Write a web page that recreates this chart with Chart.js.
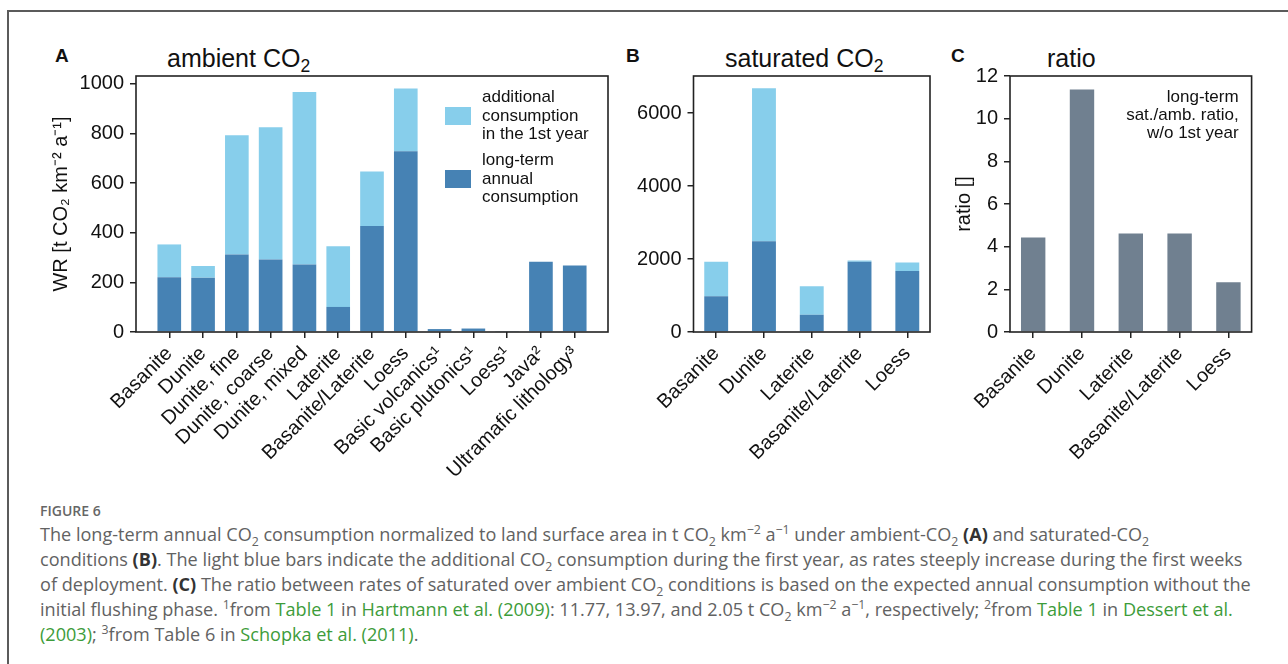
<!DOCTYPE html>
<html>
<head>
<meta charset="utf-8">
<script src="https://cdn.jsdelivr.net/npm/chart.js@4.4.1/dist/chart.umd.min.js"></script>
<style>
  body { margin:0; background:#fff; width:1288px; height:664px; overflow:hidden; position:relative; font-family:"Liberation Sans", Arial, sans-serif; }
  .frame { position:absolute; left:7px; top:10px; width:1400px; height:800px; border-left:2px solid #5b5b5b; border-top:2px solid #5b5b5b; }
  canvas { position:absolute; top:0; }
  .letter { position:absolute; top:45px; font-weight:bold; font-size:19px; color:#111; }
  .ttl { position:absolute; top:46px; font-size:25px; line-height:25px; color:#111; white-space:nowrap; }
  .ttl sub { font-size:0.7em; vertical-align:-0.28em; line-height:0; }
  .caption { position:absolute; left:40px; top:500px; font-family:"Open Sans", sans-serif; color:#626262; white-space:nowrap; }
  .caption .fig { font-size:14px; font-weight:600; color:#666; line-height:22px; }
  .caption .ln { font-size:18.1px; line-height:25px; }
  .caption sub, .caption sup { font-size:0.68em; line-height:0; }
  .caption b { color:#333; font-weight:700; }
  .caption a { color:#3d9c3a; text-decoration:none; }
</style>
</head>
<body>
<div class="frame"></div>

<div class="letter" style="left:55px">A</div>
<div class="ttl" style="left:167px">ambient CO<sub>2</sub></div>
<div class="letter" style="left:626px">B</div>
<div class="ttl" style="left:725px">saturated CO<sub>2</sub></div>
<div class="letter" style="left:951px">C</div>
<div class="ttl" style="left:1047px">ratio</div>

<canvas id="chartA" width="620" height="500" style="left:0px"></canvas>
<canvas id="chartB" width="320" height="500" style="left:620px"></canvas>
<canvas id="chartC" width="340" height="500" style="left:940px"></canvas>

<div class="caption">
  <div class="fig">FIGURE 6</div>
  <div class="ln">The long-term annual CO<sub>2</sub> consumption normalized to land surface area in t CO<sub>2</sub> km<sup>−2</sup> a<sup>−1</sup> under ambient-CO<sub>2</sub> <b>(A)</b> and saturated-CO<sub>2</sub></div>
  <div class="ln">conditions <b>(B)</b>. The light blue bars indicate the additional CO<sub>2</sub> consumption during the first year, as rates steeply increase during the first weeks</div>
  <div class="ln">of deployment. <b>(C)</b> The ratio between rates of saturated over ambient CO<sub>2</sub> conditions is based on the expected annual consumption without the</div>
  <div class="ln">initial flushing phase. <sup>1</sup>from <a>Table 1</a> in <a>Hartmann et al. (2009)</a>: 11.77, 13.97, and 2.05 t CO<sub>2</sub> km<sup>−2</sup> a<sup>−1</sup>, respectively; <sup>2</sup>from <a>Table 1</a> in <a>Dessert et al.</a></div>
  <div class="ln"><a>(2003)</a>; <sup>3</sup>from Table 6 in <a>Schopka et al. (2011)</a>.</div>
</div>

<script>
// panel A - ambient CO2
const ambientCats = ['Basanite', 'Dunite', 'Dunite, fine', 'Dunite, coarse', 'Dunite, mixed', 'Laterite',
  'Basanite/Laterite', 'Loess', 'Basic volcanics¹', 'Basic plutonics¹', 'Loess¹', 'Java²', 'Ultramafic lithology³'];
const ambientLongTerm = [221, 219, 312, 292, 272, 101, 427, 729, 11.77, 13.97, 2.05, 283, 268];
const ambientFirstYear = [132, 47, 481, 533, 696, 245, 220, 253, null, null, null, null, null];
const ambientTicks = [0, 200, 400, 600, 800, 1000];

// panel B - saturated CO2
const satCats = ['Basanite', 'Dunite', 'Laterite', 'Basanite/Laterite', 'Loess'];
const satLongTerm = [980, 2492, 476, 1924, 1676];
const satFirstYear = [944, 4195, 779, 36, 229];
const satTicks = [0, 2000, 4000, 6000];

// panel C - ratio sat./amb.
const ratioCats = ['Basanite', 'Dunite', 'Laterite', 'Basanite/Laterite', 'Loess'];
const ratioValues = [4.43, 11.37, 4.62, 4.62, 2.33];
const ratioTicks = [0, 2, 4, 6, 8, 10, 12];

const LIGHT = '#87CEEB', DARK = '#4682B4', GRAY = '#708090';
const FONT = '"Liberation Sans", Arial, sans-serif';
const INK = '#111';

const pts = arr => arr.map((v, i) => ({x: i, y: v}));

// matplotlib style box around the axes
const boxPlugin = {
  id: 'axesBox',
  afterDatasetsDraw(chart) {
    const {ctx, chartArea: a} = chart;
    ctx.save();
    ctx.strokeStyle = '#222';
    ctx.lineWidth = 1.6;
    ctx.strokeRect(a.left, a.top, a.right - a.left, a.bottom - a.top);
    ctx.restore();
  }
};

// legend with patches on the left and wrapped labels, drawn inside the axes
const boxLegendPlugin = {
  id: 'boxLegend',
  afterDraw(chart, args, opts) {
    if (!opts.show) return;
    const {ctx, chartArea: a} = chart;
    const items = chart.data.datasets.slice().reverse();
    ctx.save();
    ctx.font = '17px ' + FONT;
    ctx.textBaseline = 'middle';
    items.forEach((ds, k) => {
      const cy = a.top + opts.firstY + k * opts.gap;
      const x0 = a.right - opts.fromRight;
      ctx.fillStyle = ds.backgroundColor;
      ctx.fillRect(x0, cy - 9, 26, 18);
      ctx.fillStyle = INK;
      ds.label.forEach((ln, i) => {
        ctx.fillText(ln, x0 + 37, cy + (i - (ds.label.length - 1) / 2) * 18.6);
      });
    });
    ctx.restore();
  }
};

const noteLinesC = ['long-term', 'sat./amb. ratio,', 'w/o 1st year'];
const notePlugin = {
  id: 'cornerNote',
  afterDraw(chart, args, opts) {
    if (!opts.lines) return;
    const {ctx, chartArea: a} = chart;
    ctx.save();
    ctx.font = '17px ' + FONT;
    ctx.textAlign = 'right';
    ctx.textBaseline = 'middle';
    ctx.fillStyle = INK;
    opts.lines.forEach((ln, i) => ctx.fillText(ln, a.right - 13, a.top + 21 + i * 18.2));
    ctx.restore();
  }
};

function makeScales(cats, yMax, yTicks, yWidth, xPad, yTitle, yTitlePad, stacked) {
  return {
    x: {
      type: 'linear',
      stacked: stacked,
      min: -xPad,
      max: cats.length - 1 + xPad,
      offset: false,
      afterFit: s => { s.height = 168; },
      afterBuildTicks: s => { s.ticks = cats.map((c, i) => ({value: i})); },
      border: {display: false},
      grid: {offset: false, drawOnChartArea: false, drawTicks: true, tickLength: 6, tickColor: '#222', lineWidth: 1.5},
      ticks: {
        autoSkip: false,
        maxRotation: 45,
        minRotation: 45,
        padding: 4,
        color: INK,
        font: {family: FONT, size: 20},
        callback: v => cats[v]
      }
    },
    y: {
      stacked: stacked,
      min: 0,
      max: yMax,
      afterFit: s => { s.width = yWidth; },
      afterBuildTicks: s => { s.ticks = yTicks.map(v => ({value: v})); },
      border: {display: false},
      grid: {drawOnChartArea: false, drawTicks: true, tickLength: 6, tickColor: '#222', lineWidth: 1.5},
      ticks: {
        padding: 6,
        color: INK,
        font: {family: FONT, size: 20},
        callback: v => String(v)
      },
      title: {
        display: !!yTitle,
        text: yTitle,
        color: INK,
        font: {family: FONT, size: 20},
        padding: {top: yTitlePad, bottom: 0}
      }
    }
  };
}

function baseOptions(scales, padRight, plugins) {
  return {
    responsive: false,
    animation: false,
    events: [],
    layout: {padding: {top: 76, right: padRight, left: 0, bottom: 0}},
    scales: scales,
    plugins: Object.assign({legend: {display: false}, tooltip: {enabled: false}}, plugins)
  };
}

new Chart(document.getElementById('chartA').getContext('2d'), {
  type: 'bar',
  data: {
    datasets: [
      {label: ['long-term', 'annual', 'consumption'], data: pts(ambientLongTerm), backgroundColor: DARK,
        stack: 's0', barPercentage: 0.7, categoryPercentage: 1},
      {label: ['additional', 'consumption', 'in the 1st year'], data: pts(ambientFirstYear), backgroundColor: LIGHT,
        stack: 's0', barPercentage: 0.7, categoryPercentage: 1}
    ]
  },
  options: baseOptions(
    makeScales(ambientCats, 1032, ambientTicks, 136, 0.985, 'WR [t CO₂ km⁻² a⁻¹]', 49, true),
    12, {boxLegend: {show: true, firstY: 40, gap: 63, fromRight: 163}}),
  plugins: [boxPlugin, boxLegendPlugin]
});

new Chart(document.getElementById('chartB').getContext('2d'), {
  type: 'bar',
  data: {
    datasets: [
      {label: ['long-term'], data: pts(satLongTerm), backgroundColor: DARK, stack: 's0', barPercentage: 0.5, categoryPercentage: 1},
      {label: ['additional'], data: pts(satFirstYear), backgroundColor: LIGHT, stack: 's0', barPercentage: 0.5, categoryPercentage: 1}
    ]
  },
  options: baseOptions(makeScales(satCats, 7021, satTicks, 73.5, 0.475, '', 0, true), 10, {}),
  plugins: [boxPlugin]
});

new Chart(document.getElementById('chartC').getContext('2d'), {
  type: 'bar',
  data: {
    datasets: [
      {label: 'ratio', data: pts(ratioValues), backgroundColor: GRAY, barPercentage: 0.5, categoryPercentage: 1}
    ]
  },
  options: baseOptions(makeScales(ratioCats, 12, ratioTicks, 70, 0.475, 'ratio []', 12, false), 28.4,
    {cornerNote: {lines: noteLinesC}}),
  plugins: [boxPlugin, notePlugin]
});
</script>
</body>
</html>
